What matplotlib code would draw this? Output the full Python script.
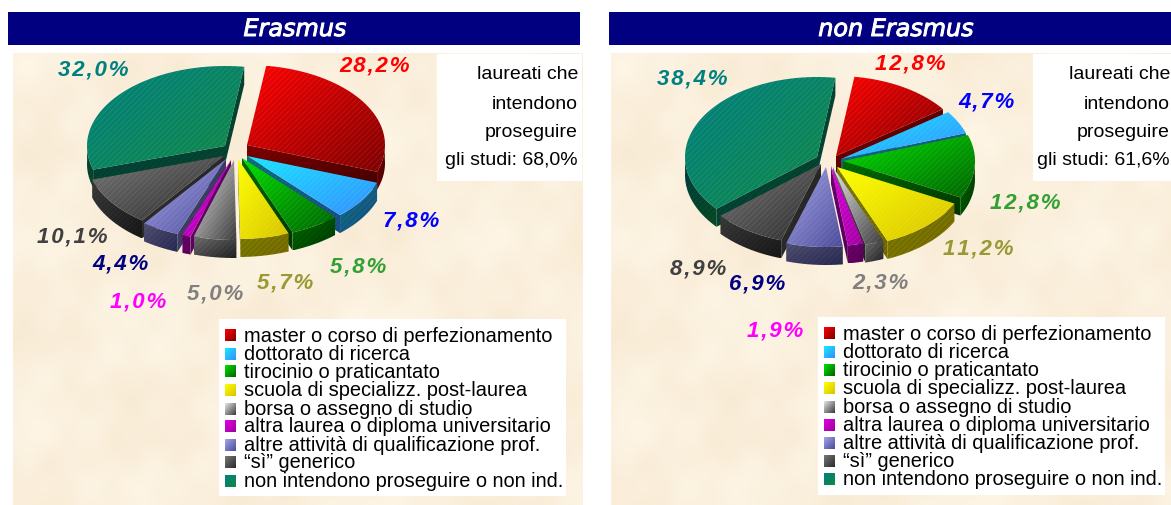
import numpy as np
import matplotlib
matplotlib.use("Agg")
import matplotlib.pyplot as plt
import matplotlib.patheffects as pe
from matplotlib.patches import Polygon, Rectangle
from matplotlib.colors import to_rgb

categories = ["master o corso di perfezionamento", "dottorato di ricerca", "tirocinio o praticantato",
              "scuola di specializz. post-laurea", "borsa o assegno di studio",
              "altra laurea o diploma universitario", "altre attività di qualificazione prof.",
              "“sì” generico", "non intendono proseguire o non ind."]
erasmus = [28.2, 7.8, 5.8, 5.7, 5.0, 1.0, 4.4, 10.1, 32.0]
non_erasmus = [12.8, 4.7, 12.8, 11.2, 2.3, 1.9, 6.9, 8.9, 38.4]
titles = ["Erasmus", "non Erasmus"]
notes = [["laureati che", "intendono", "proseguire", "gli studi: 68,0%"],
         ["laureati che", "intendono", "proseguire", "gli studi: 61,6%"]]

# styles
grad_a = ["#FF0000", "#19E6FF", "#00E000", "#FFFF00", "#E4E4E4", "#E000E0", "#A4A4E6", "#777777", "#008080"]
grad_b = ["#7E0000", "#3390FF", "#006400", "#D8C400", "#3C3C3C", "#A000A0", "#4C4C9C", "#2C2C2C", "#118844"]
label_colors = ["#FF0000", "#0000FF", "#33A033", "#999933", "#808080", "#FF00FF", "#000080", "#404040", "#008080"]
apex_L = [(247, 146), (247, 157), (242, 159), (238, 160), (234, 161), (231, 161), (226, 160), (224, 157), (225, 147)]
apex_R = [(836, 157), (841, 160), (843, 162), (837, 168), (833, 168), (831, 167), (826, 168), (821, 165), (817, 158)]
labpos_L = [(375, 66), (411, 221), (358, 267), (285, 283), (215, 294), (138, 302), (121, 264), (72, 237), (93, 70)]
labpos_R = [(910, 64), (987, 102), (1025, 203), (978, 249), (880, 283), (775, 331), (757, 284), (698, 269), (692, 79)]
rows_L = [337, 356, 373, 392, 411, 428, 447, 464, 483]
rows_R = [335, 354, 372, 390, 409, 427, 445, 463, 481]

plt.rcParams["font.family"] = ["Liberation Sans", "DejaVu Sans"]
plt.rcParams["hatch.linewidth"] = 0.35
fig = plt.figure(figsize=(11.71, 5.06), dpi=100, facecolor="white")
ax = fig.add_axes([0, 0, 1, 1])
ax.set_xlim(0, 1171)
ax.set_ylim(506, 0)
ax.axis("off")


def gradient(c1, c2, n=64):
    a, b = np.array(to_rgb(c1)), np.array(to_rgb(c2))
    yy, xx = np.mgrid[0:1:n * 1j, 0:1:n * 1j]
    t = np.clip((xx + yy) / 2, 0, 1)[..., None]
    return a * (1 - t) + b * t


def fill(pts, c1, c2, z, hatch_col="#FFFFFF", alpha=0.16):
    pts = np.asarray(pts)
    x0, y0 = pts.min(0)
    x1, y1 = pts.max(0)
    poly = Polygon(pts, closed=True, fc="none", ec="none", transform=ax.transData)
    ax.add_patch(poly)
    im = ax.imshow(gradient(c1, c2), extent=(x0, x1, y1, y0), aspect="auto", zorder=z, interpolation="bilinear")
    im.set_clip_path(poly)
    ax.add_patch(Polygon(pts, closed=True, fc="none", ec=(*to_rgb(hatch_col), alpha), hatch="//////", lw=0, zorder=z + 0.1))


def dark(c, f):
    return tuple(v * f for v in to_rgb(c))


def pie3d(values, apexes, rx, ry, depth, start):
    total = sum(values)
    edges = start + np.cumsum([0] + list(values)) / total * 360.0
    order = sorted(range(len(values)), key=lambda i: -np.cos(np.radians((edges[i] + edges[i + 1]) / 2)))
    for k, i in enumerate(order):
        z = 5 + k
        t = np.radians(np.linspace(edges[i], edges[i + 1], 60))
        ax_, ay_ = apexes[i]
        ox = ax_ + rx * np.sin(t)
        oy = ay_ - ry * np.cos(t)
        top = np.column_stack([np.r_[ax_, ox], np.r_[ay_, oy]])
        side1, side2 = dark(grad_a[i], 0.5), dark(grad_b[i], 0.55)
        for th, px, py, sgn in ((t[0], ox[0], oy[0], -1), (t[-1], ox[-1], oy[-1], 1)):
            if -np.cos(th + sgn * np.pi / 2) > 0:
                fill([(ax_, ay_), (px, py), (px, py + depth), (ax_, ay_ + depth)], side1, side2, z, "#000000", 0.25)
        m = np.cos(t) < 0.05
        if m.any():
            wall = np.r_[np.column_stack([ox[m], oy[m]]), np.column_stack([ox[m], oy[m] + depth])[::-1]]
            fill(wall, side1, side2, z + 0.2, "#000000", 0.25)
        fill(top, grad_a[i], grad_b[i], z + 0.4)


# mottled paper panels
yy, xx = np.mgrid[0:452:226j, 0:572:286j]
tex = (np.sin(xx / 37.0 + 1.2) * np.cos(yy / 29.0) + 0.6 * np.sin((xx + yy) / 17.0) * np.cos((xx - yy) / 23.0)
       + 0.35 * np.sin(xx / 7.0) * np.sin(yy / 9.0))
paper = np.array(to_rgb("#FBF0DD"))[None, None, :] + tex[..., None] * np.array([0.006, 0.012, 0.02])
paper = np.clip(paper, 0, 1)
for x0, x1 in ((13, 583), (611, 1183)):
    ax.imshow(paper, extent=(x0, x1, 506, 54), aspect="auto", zorder=1)
ax.set_xlim(0, 1171)
ax.set_ylim(506, 0)

# title bars
for (x0, x1, cx), title in zip(((8, 580, 295), (609, 1175, 896)), titles):
    ax.add_patch(Rectangle((x0, 13), x1 - x0, 33, fc="#000080", ec="none", zorder=2))
    t = ax.text(cx, 30, title, color="white", ha="center", va="center", fontsize=17.2, style="oblique",
                family="DejaVu Sans", zorder=3)
    t.set_path_effects([pe.withStroke(linewidth=0.7, foreground="white")])

pie3d(erasmus, apex_L, 138, 80, 18, 8)
pie3d(non_erasmus, apex_R, 132, 80, 18, 8)

# value labels
for vals, pos in ((erasmus, labpos_L), (non_erasmus, labpos_R)):
    for v, (x, y), c in zip(vals, pos, label_colors):
        s = "\u200a".join(f"{v:.1f}".replace(".", ",") + "%")
        ax.text(x, y, s, color=c, ha="center", va="center", fontsize=16, fontweight="bold", style="italic", zorder=30)

# note boxes
for (bx0, bx1, tx), lines in zip(((437, 582, 578), (1033, 1175, 1170)), notes):
    ax.add_patch(Rectangle((bx0, 55), bx1 - bx0, 127, fc="white", ec="none", zorder=20))
    for y, s in zip((74, 104, 132, 160), lines):
        ax.text(tx, y, s, color="black", ha="right", va="center", fontsize=14.0, zorder=21)

# legends
for (bx0, bx1, by0, by1, sx, tx), rows in zip(((219, 566, 320, 497, 225, 244), (818, 1165, 318, 496, 824, 843)),
                                              (rows_L, rows_R)):
    ax.add_patch(Rectangle((bx0, by0), bx1 - bx0, by1 - by0, fc="white", ec="none", zorder=20))
    for i, (y, cat) in enumerate(zip(rows, categories)):
        ax.imshow(gradient(grad_a[i], grad_b[i], 16), extent=(sx, sx + 11, y + 5, y - 7), aspect="auto", zorder=21,
                  interpolation="bilinear")
        ax.text(tx, y - 1, cat, color="black", ha="left", va="center", fontsize=14.4, zorder=21)

ax.set_xlim(0, 1171)
ax.set_ylim(506, 0)
fig.savefig("out.png", dpi=100, facecolor="white")
